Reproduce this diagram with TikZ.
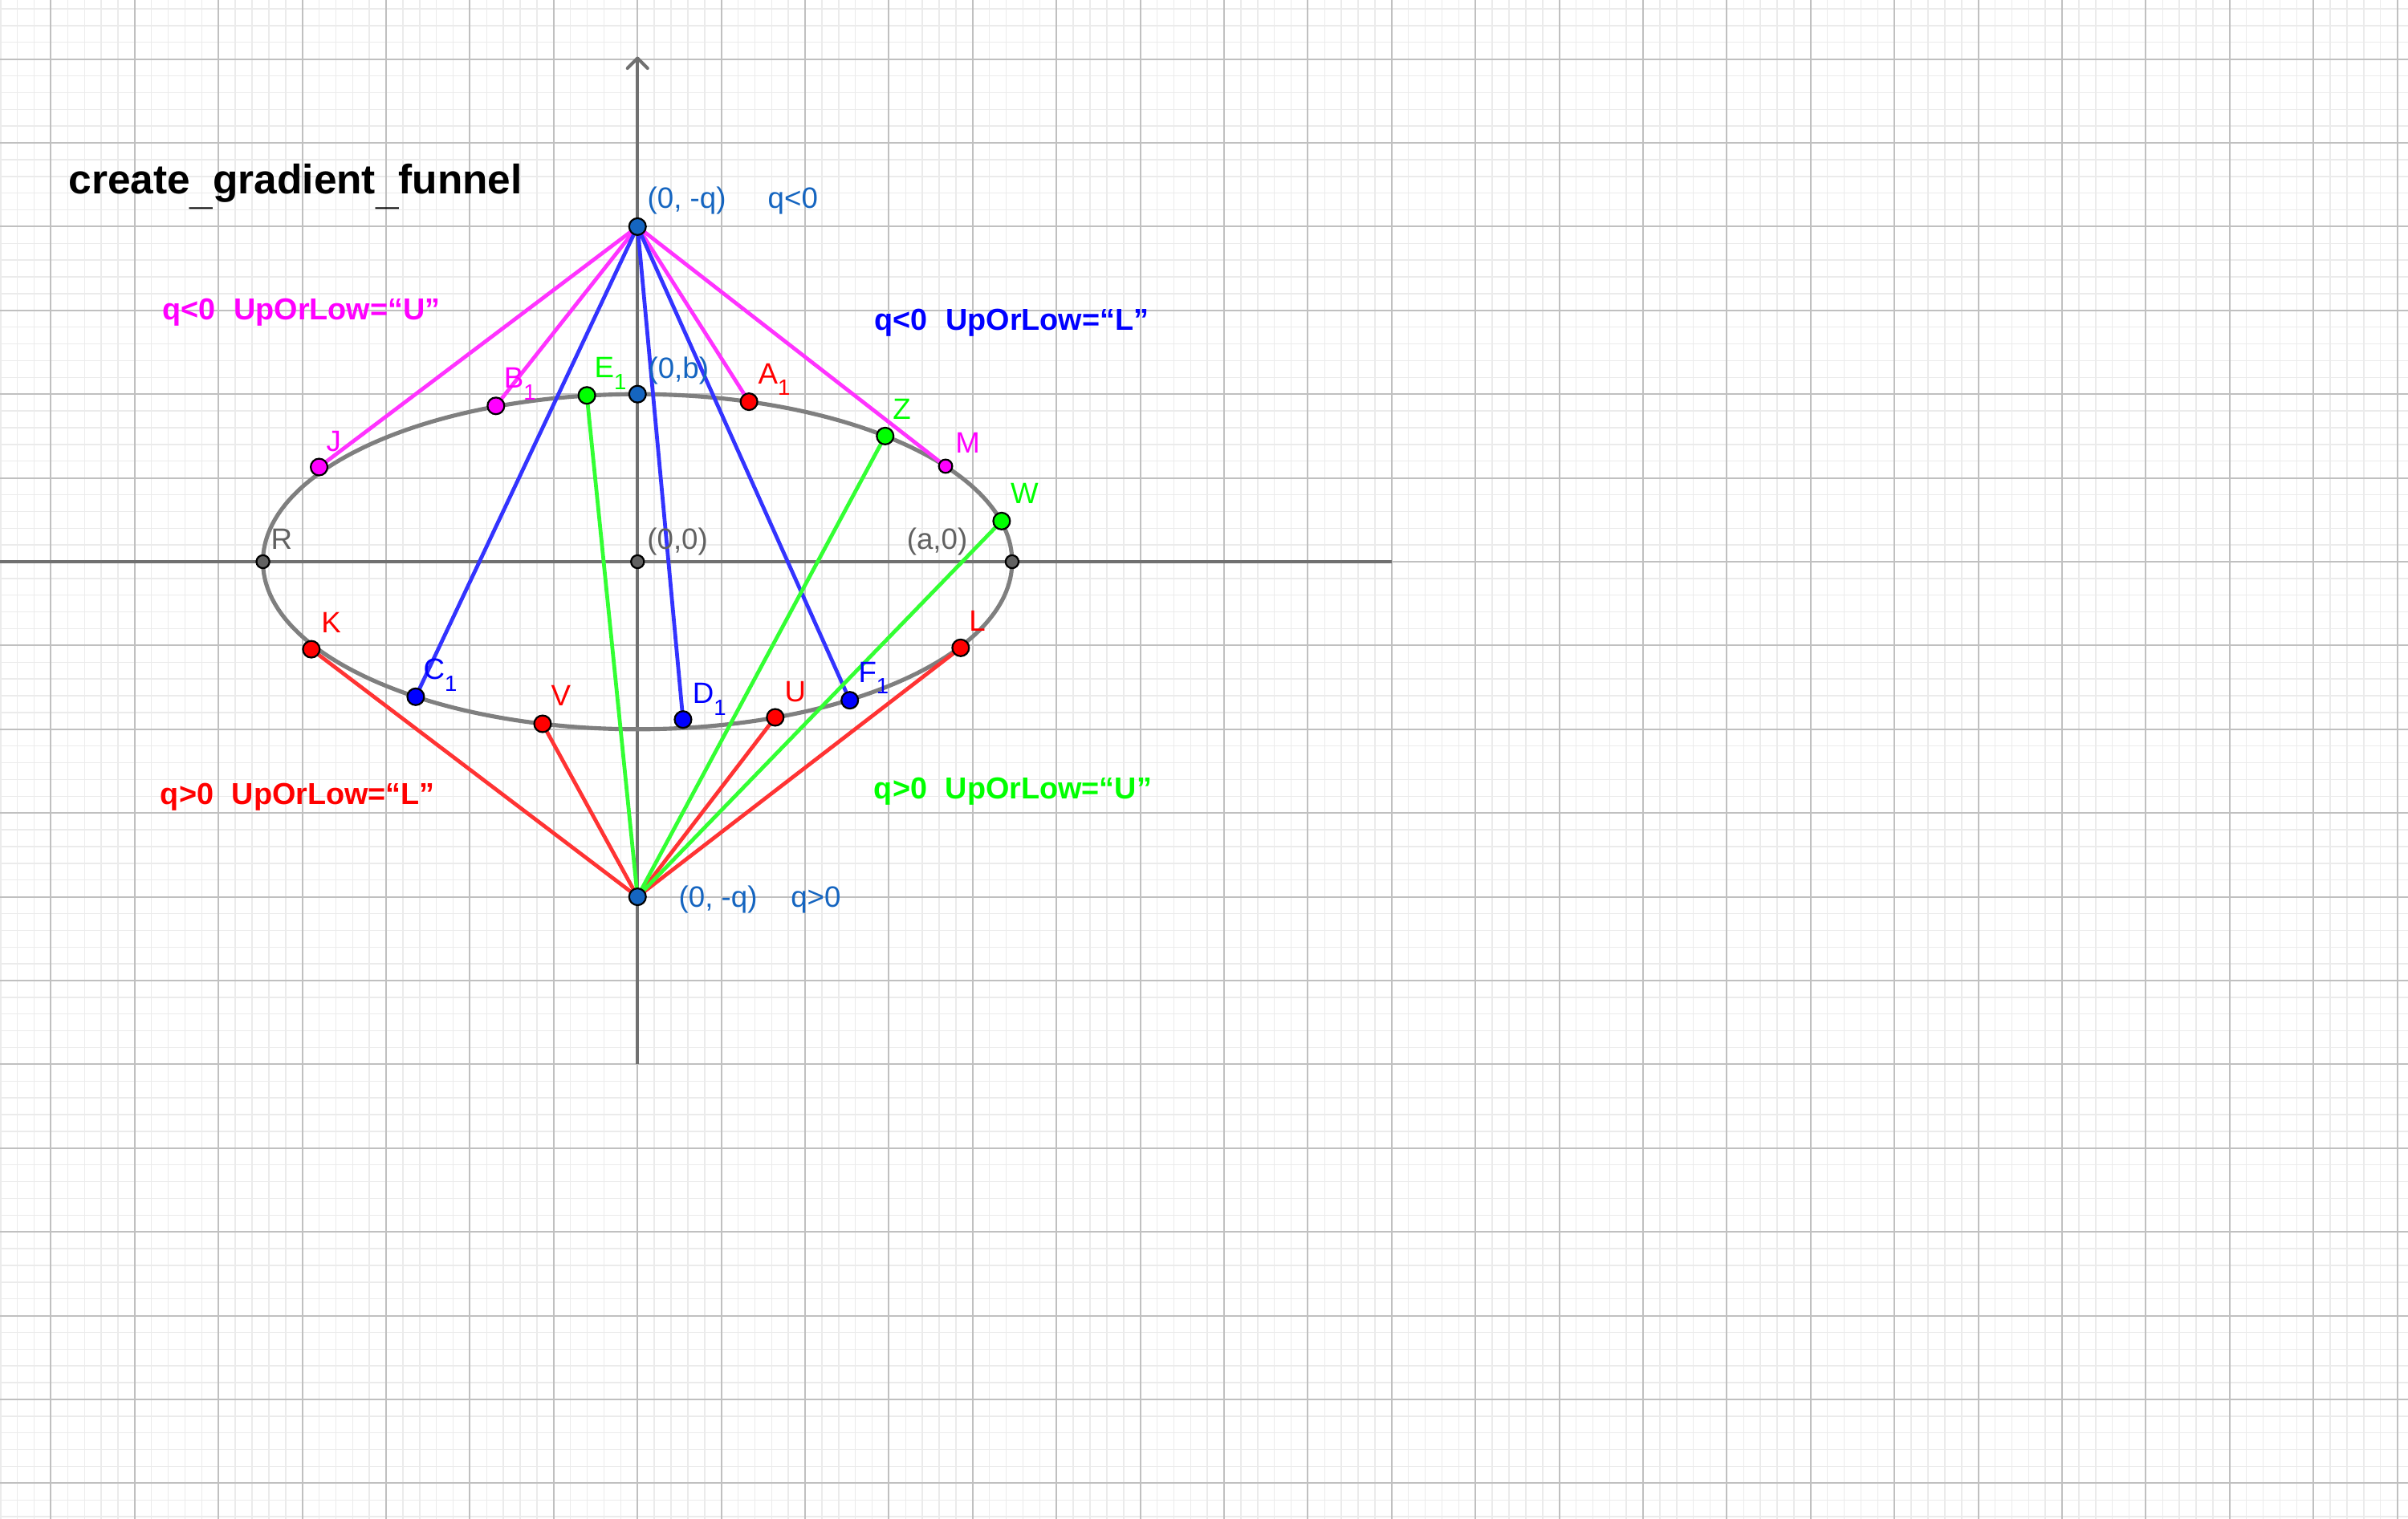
\documentclass[tikz,border=0pt]{standalone}
\usepackage{fontspec}
\setmainfont{Liberation Sans}
\definecolor{ggblue}{HTML}{1565C0}
\definecolor{gggray}{HTML}{616161}
\definecolor{axisgray}{HTML}{707070}
\definecolor{ellgray}{HTML}{7F7F7F}
\definecolor{majgrid}{HTML}{C0C0C0}
\definecolor{mingrid}{HTML}{EBEBEB}
\definecolor{cmag}{HTML}{FF00FF}
\definecolor{cred}{HTML}{FF0000}
\definecolor{cgreen}{HTML}{00FF00}
\definecolor{cblue}{HTML}{0000FF}
\definecolor{lmag}{HTML}{FF33FF}
\definecolor{lred}{HTML}{FF3333}
\definecolor{lgreen}{HTML}{33FF33}
\definecolor{lblue}{HTML}{3333FF}
\newcommand\lsub[1]{\raisebox{-0.14cm}{\fontsize{7.5}{8}\selectfont #1}}
\tikzset{
  minorgrid/.style={draw=mingrid, line width=0.4pt},
  majorgrid/.style={draw=majgrid, line width=0.55pt},
  axisline/.style={draw=axisgray, line width=1.1pt},
  ellipseline/.style={draw=ellgray, line width=1.4pt},
  seg/.style={line width=1.3pt},
  pt/.style={circle, draw=black, line width=0.6pt, inner sep=0pt, minimum size=0.2cm},
  smallpt/.style={pt, minimum size=0.16cm},
  graypt/.style={pt, fill=gggray, minimum size=0.155cm},
  lab/.style={font=\fontsize{10}{12}\selectfont, inner sep=0pt, anchor=base west},
  boldlab/.style={font=\fontsize{10.3}{12}\selectfont\bfseries, inner sep=0pt, anchor=base west},
  titlelab/.style={font=\fontsize{14}{16}\selectfont\bfseries, inner sep=0pt, anchor=base west, text=black},
}
\begin{document}
\begin{tikzpicture}
\useasboundingbox (-7.608,-11.427) rectangle (21.128,6.705);
\fill[white] (-7.608,-11.427) rectangle (21.128,6.705);
\begin{scope}
\clip (-7.608,-11.427) rectangle (21.128,6.705);
\draw[minorgrid] (-7.608,-11.427) grid[step=0.2] (21.128,6.705);
\draw[majorgrid] (-7.608,-11.427) grid[step=1] (21.128,6.705);
\end{scope}
% axes
\coordinate (xl) at (-7.608,0);
\coordinate (xr) at (9,0);
\coordinate (yb) at (0,-6);
\coordinate (yt) at (0,6.01);
\coordinate (yta) at (-0.12,5.89);
\coordinate (ytb) at (0.12,5.89);
\draw[axisline] (xl) -- (xr);
\draw[axisline] (yb) -- (yt);
\draw[axisline, line cap=round, line join=round] (yta) -- (yt) -- (ytb);
% ellipse
\draw[ellipseline] (0,0) ellipse [x radius=4.47, y radius=2];
% point positions
\coordinate (T) at (0,4);
\coordinate (S) at (0,-4);
\coordinate (Bq) at (0,2);
\coordinate (O) at (0,0);
\coordinate (Ra) at (-4.47,0);
\coordinate (Aa) at (4.47,0);
\coordinate (J) at (-3.80,1.13);
\coordinate (B1) at (-1.69,1.86);
\coordinate (E1) at (-0.605,1.985);
\coordinate (A1) at (1.33,1.91);
\coordinate (Z) at (2.955,1.50);
\coordinate (M) at (3.676,1.14);
\coordinate (W) at (4.345,0.485);
\coordinate (K) at (-3.893,-1.045);
\coordinate (C1) at (-2.647,-1.612);
\coordinate (V) at (-1.133,-1.935);
\coordinate (D1) at (0.543,-1.884);
\coordinate (U) at (1.643,-1.858);
\coordinate (F1) at (2.533,-1.654);
\coordinate (L) at (3.856,-1.028);
% segments from the top point
\draw[seg, lmag] (T) -- (J);
\draw[seg, lmag] (T) -- (B1);
\draw[seg, lmag] (T) -- (A1);
\draw[seg, lmag] (T) -- (M);
\draw[seg, lblue] (T) -- (C1);
\draw[seg, lblue] (T) -- (D1);
\draw[seg, lblue] (T) -- (F1);
% segments from the bottom point
\draw[seg, lred] (S) -- (K);
\draw[seg, lred] (S) -- (V);
\draw[seg, lred] (S) -- (U);
\draw[seg, lred] (S) -- (L);
\draw[seg, lgreen] (S) -- (E1);
\draw[seg, lgreen] (S) -- (Z);
\draw[seg, lgreen] (S) -- (W);
% points
\node[graypt] (pO) at (O) {};
\node[graypt] (pR) at (Ra) {};
\node[graypt] (pA) at (Aa) {};
\node[pt, fill=ggblue] (pT) at (T) {};
\node[pt, fill=ggblue] (pS) at (S) {};
\node[pt, fill=ggblue] (pB) at (Bq) {};
\node[pt, fill=cmag] (pJ) at (J) {};
\node[pt, fill=cmag] (pB1) at (B1) {};
\node[smallpt, fill=cmag] (pM) at (M) {};
\node[pt, fill=cgreen] (pE1) at (E1) {};
\node[pt, fill=cgreen] (pZ) at (Z) {};
\node[pt, fill=cgreen] (pW) at (W) {};
\node[pt, fill=cred] (pA1) at (A1) {};
\node[pt, fill=cred] (pK) at (K) {};
\node[pt, fill=cred] (pV) at (V) {};
\node[pt, fill=cred] (pU) at (U) {};
\node[pt, fill=cred] (pL) at (L) {};
\node[pt, fill=cblue] (pC1) at (C1) {};
\node[pt, fill=cblue] (pD1) at (D1) {};
\node[pt, fill=cblue] (pF1) at (F1) {};
% coordinate labels
\node[lab, text=ggblue] (tT) at (0.112,4.215) {(0, -q)\hspace{0.50cm}q<0};
\node[lab, text=ggblue] (tS) at (0.486,-4.119) {(0, -q)\hspace{0.40cm}q>0};
\node[lab, text=ggblue] (tB) at (0.12,2.19) {(0,b)};
\node[lab, text=gggray] (tO) at (0.109,0.15) {(0,0)};
\node[lab, text=gggray] (tA) at (3.207,0.15) {(a,0)};
\node[lab, text=gggray] (tR) at (-4.38,0.15) {R};
% point labels
\node[lab, text=cmag] (tJ) at (-3.72,1.317) {J};
\node[lab, text=cmag] (tB1) at (-1.60,2.069) {B\lsub{1}};
\node[lab, text=cgreen] (tE1) at (-0.52,2.197) {E\lsub{1}};
\node[lab, text=cred] (tA1) at (1.433,2.125) {A\lsub{1}};
\node[lab, text=cgreen] (tZ) at (3.04,1.705) {Z};
\node[lab, text=cmag] (tM) at (3.787,1.30) {M};
\node[lab, text=cgreen] (tW) at (4.446,0.69) {W};
\node[lab, text=cred] (tK) at (-3.78,-0.846) {K};
\node[lab, text=cblue] (tC1) at (-2.56,-1.405) {C\lsub{1}};
\node[lab, text=cred] (tV) at (-1.037,-1.718) {V};
\node[lab, text=cblue] (tD1) at (0.65,-1.692) {D\lsub{1}};
\node[lab, text=cred] (tU) at (1.75,-1.667) {U};
\node[lab, text=cblue] (tF1) at (2.63,-1.437) {F\lsub{1}};
\node[lab, text=cred] (tL) at (3.95,-0.824) {L};
% case labels
\node[boldlab, text=cmag] (cU1) at (-5.676,2.89) {q<0\hspace{0.6em}UpOrLow=“U”};
\node[boldlab, text=cblue] (cL1) at (2.82,2.76) {q<0\hspace{0.6em}UpOrLow=“L”};
\node[boldlab, text=cred] (cL2) at (-5.70,-2.90) {q>0\hspace{0.6em}UpOrLow=“L”};
\node[boldlab, text=cgreen] (cU2) at (2.816,-2.826) {q>0\hspace{0.6em}UpOrLow=“U”};
% title
\node[titlelab] (title) at (-6.796,4.39) {create\raisebox{-3.5pt}{\_}gradient\raisebox{-3.5pt}{\_}funnel};
\end{tikzpicture}
\end{document}
